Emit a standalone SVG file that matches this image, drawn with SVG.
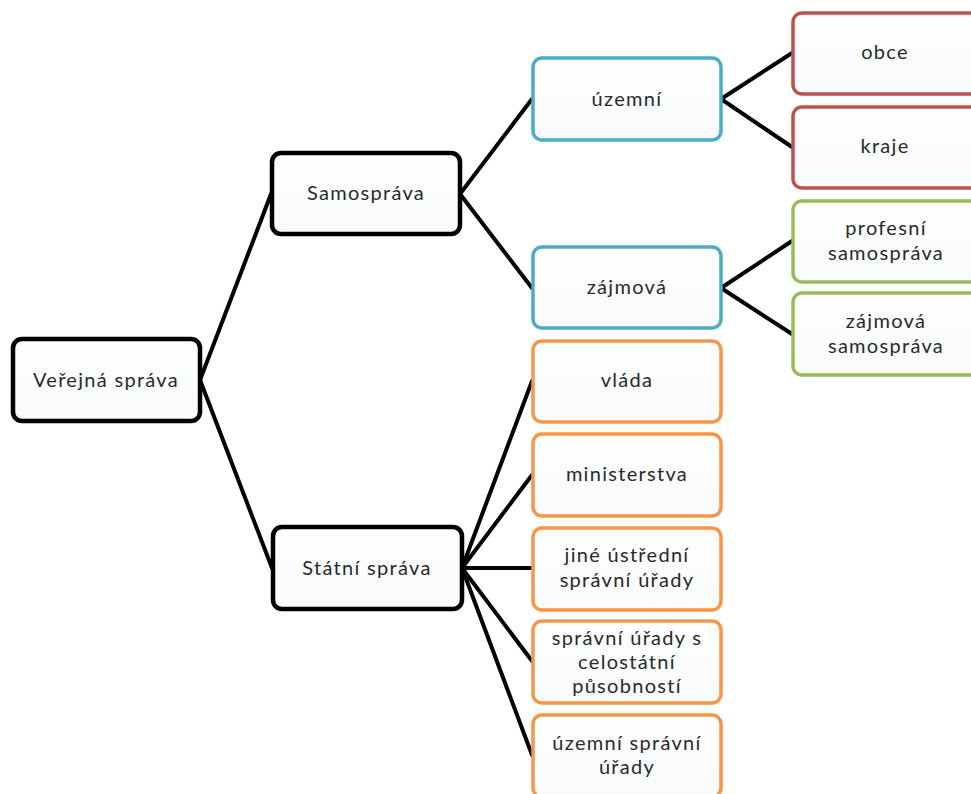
<svg xmlns="http://www.w3.org/2000/svg" width="971" height="794" viewBox="0 0 971 794">
<defs>
<linearGradient id="g" x1="0" y1="0" x2="0" y2="1">
<stop offset="0" stop-color="#ffffff"/>
<stop offset="1" stop-color="#f8fafc"/>
</linearGradient>
<style>
.n rect{fill:url(#g);rx:9px;ry:9px}
.k rect{stroke:#000;stroke-width:4.5}
.b rect{stroke:#4BACC6;stroke-width:3.5}
.r rect{stroke:#C0504D;stroke-width:3.5}
.gr rect{stroke:#9BBB59;stroke-width:3.5}
.o rect{stroke:#F79646;stroke-width:3.5}
text{font-family:Lato,"Open Sans","Liberation Sans",sans-serif;font-size:20px;letter-spacing:1.3px;fill:#2a2a2a;text-anchor:middle}
.c line{stroke:#000;stroke-width:4;stroke-linecap:round}
</style>
</defs>
<rect width="971" height="794" fill="#fff"/>
<g class="c">
<line x1="200" y1="380" x2="271" y2="194"/>
<line x1="200" y1="380" x2="272" y2="568"/>
<line x1="460" y1="194" x2="532" y2="99"/>
<line x1="460" y1="194" x2="532" y2="288"/>
<line x1="721" y1="99" x2="792" y2="53"/>
<line x1="721" y1="99" x2="792" y2="147"/>
<line x1="721" y1="288" x2="792" y2="241"/>
<line x1="721" y1="288" x2="792" y2="334"/>
<line x1="462" y1="568" x2="532" y2="381"/>
<line x1="462" y1="568" x2="532" y2="475"/>
<line x1="462" y1="568" x2="532" y2="568"/>
<line x1="462" y1="568" x2="532" y2="661"/>
<line x1="462" y1="568" x2="532" y2="755"/>
</g>
<g id="verejna" class="n k"><rect x="13" y="339" width="187" height="82"/><text x="106" y="387">Veřejná správa</text></g>
<g id="samosprava" class="n k"><rect x="272" y="153" width="188" height="81"/><text x="366" y="200">Samospráva</text></g>
<g id="statni" class="n k"><rect x="273" y="527" width="189" height="82"/><text x="367" y="575">Státní správa</text></g>
<g id="uzemni" class="n b"><rect x="533" y="58" width="188" height="82"/><text x="627" y="106">územní</text></g>
<g id="zajmova" class="n b"><rect x="533" y="247" width="188" height="81"/><text x="627" y="294">zájmová</text></g>
<g id="obce" class="n r"><rect x="793" y="13" width="190" height="81"/><text x="885" y="59">obce</text></g>
<g id="kraje" class="n r"><rect x="793" y="107" width="190" height="81"/><text x="885" y="153">kraje</text></g>
<g id="profesni" class="n gr"><rect x="793" y="201" width="190" height="81"/><text x="886" y="235">profesní</text><text x="886" y="260">samospráva</text></g>
<g id="zajmovasam" class="n gr"><rect x="793" y="293" width="190" height="82"/><text x="886" y="328">zájmová</text><text x="886" y="353">samospráva</text></g>
<g id="vlada" class="n o"><rect x="533" y="341" width="188" height="81"/><text x="627" y="387">vláda</text></g>
<g id="ministerstva" class="n o"><rect x="533" y="434" width="188" height="82"/><text x="627" y="481">ministerstva</text></g>
<g id="jine" class="n o"><rect x="533" y="528" width="188" height="82"/><text x="627" y="562">jiné ústřední</text><text x="627" y="587">správní úřady</text></g>
<g id="celostatni" class="n o"><rect x="533" y="621" width="188" height="82"/><text x="627" y="645">správní úřady s</text><text x="627" y="669">celostátní</text><text x="627" y="693">působností</text></g>
<g id="uzemnisu" class="n o"><rect x="533" y="715" width="188" height="82"/><text x="627" y="750">územní správní</text><text x="627" y="774">úřady</text></g>
</svg>
